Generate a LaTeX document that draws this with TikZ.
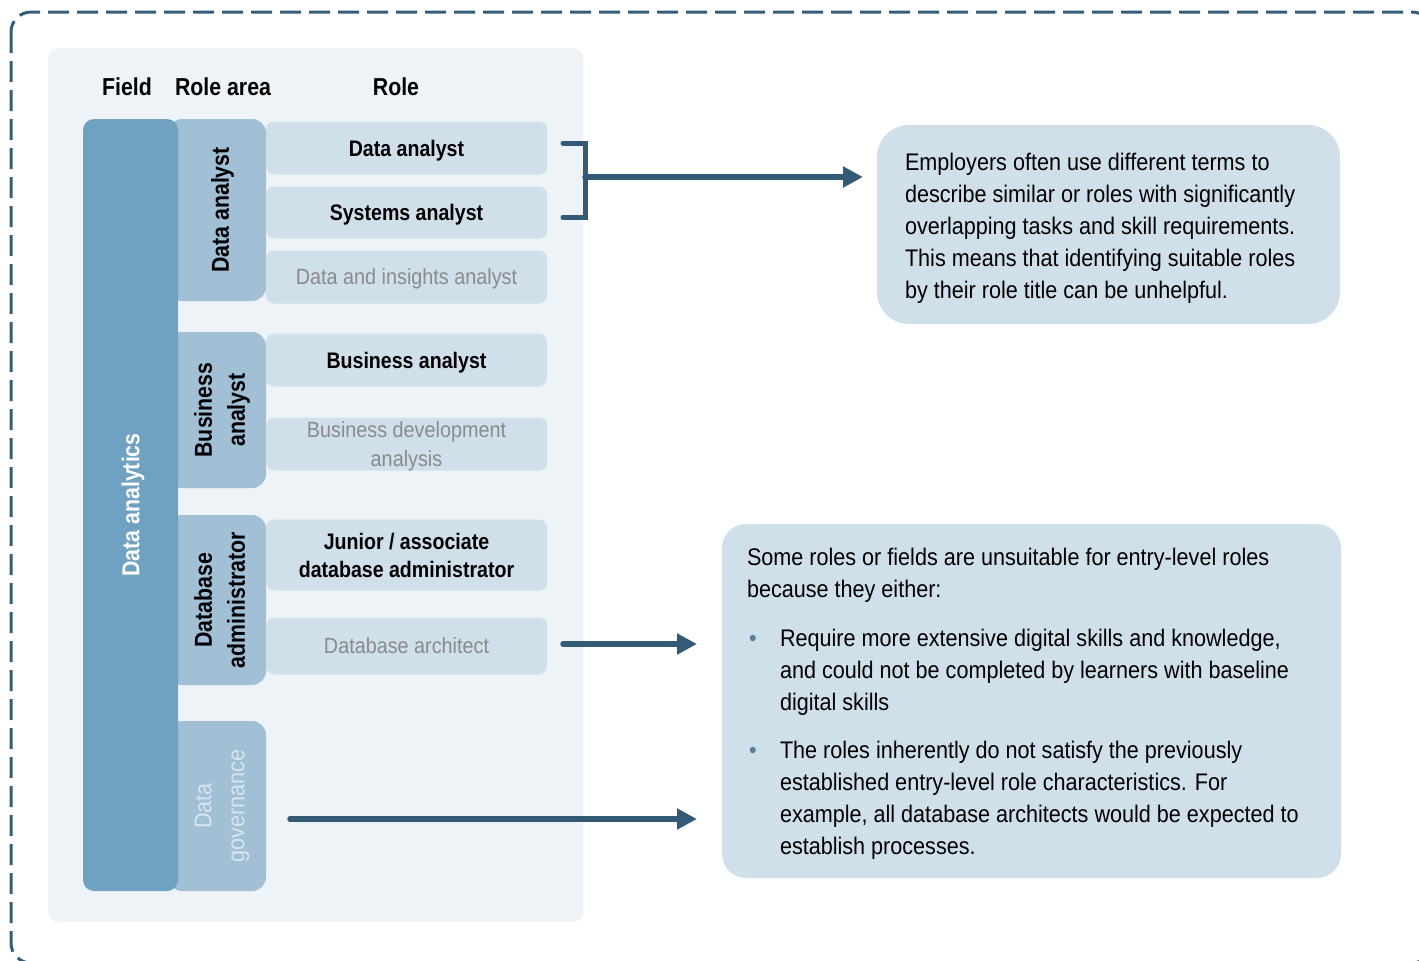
\documentclass[tikz,border=0pt]{standalone}
\usepackage{fontspec}
\setmainfont{Liberation Sans}[FakeStretch=0.9,BoldFeatures={FakeStretch=0.87}]
\usetikzlibrary{arrows.meta}

\definecolor{framec}{HTML}{365D78}
\definecolor{arrowc}{HTML}{335B76}
\definecolor{panelc}{HTML}{EEF3F7}
\definecolor{fieldc}{HTML}{6FA1C1}
\definecolor{areac}{HTML}{A1C0D5}
\definecolor{rolec}{HTML}{D0E0EB}
\definecolor{mutedc}{HTML}{8A8A8A}
\definecolor{fadec}{HTML}{D8E5EF}
\definecolor{bulletc}{HTML}{5B7F99}

\newcommand\fsz[2]{\fontsize{#1}{#2}\selectfont}

\begin{document}
\begin{tikzpicture}[x=1pt,y=-1pt,
  every node/.style={inner sep=0pt,outer sep=0pt},
  panelbox/.style={fill=panelc,rounded corners=10pt},
  fieldbox/.style={fill=fieldc,rounded corners=11pt},
  areabox/.style={fill=areac,rounded corners=14pt,minimum width=98pt},
  rolebox/.style={fill=rolec,rounded corners=8pt,minimum width=281pt,align=center,text depth=0pt,font=\fsz{22.5}{28.5}},
  keyrole/.style={rolebox,font=\fsz{22.5}{28}\bfseries},
  otherrole/.style={rolebox,text=mutedc,font=\fsz{22}{28.5}},
  heading/.style={anchor=base,font=\fsz{24.5}{30}\bfseries},
  areatext/.style={rotate=90,align=center,text depth=0pt,font=\fsz{24.5}{33}\bfseries},
  fadetext/.style={rotate=90,align=center,text depth=0pt,text=fadec,font=\fsz{24}{33}},
  calloutbox/.style={fill=rolec},
  callouttext/.style={anchor=north west,align=left,font=\fsz{24}{32}},
  bracket/.style={draw=arrowc,line width=5pt,line cap=round,line join=miter},
  conn/.style={draw=arrowc,line width=5.5pt,line cap=round,-{Triangle[length=20pt,width=20pt]}},
]
\useasboundingbox (0,0) rectangle (1419,961);

% dashed outer frame, running off the right and bottom edges
\draw[framec,line width=3pt,dash pattern=on 21pt off 8pt,rounded corners=20pt]
  (11,12) rectangle (1432,963);

% light panel holding the table
\node[panelbox,minimum width=535pt,minimum height=874pt] (panel) at (315.5,485) {};

% column headings
\node[heading] (hField) at (127,95) {Field};
\node[heading] (hArea)  at (223,95) {Role area};
\node[heading] (hRole)  at (396,95) {Role};

% role areas (tucked under the field bar)
\node[areabox,minimum height=182pt] (aDA) at (217,210) {};
\node[areabox,minimum height=156pt] (aBA) at (217,410) {};
\node[areabox,minimum height=170pt] (aDB) at (217,600) {};
\node[areabox,minimum height=170pt] (aDG) at (217,806) {};

% field bar
\node[fieldbox,minimum width=95pt,minimum height=772pt] (field) at (130.5,505) {};
\node[rotate=90,text=white,text depth=0pt,font=\fsz{24.5}{30}\bfseries] (fieldlbl) at (field.center) {Data analytics};

% role area labels
\node[areatext] (aDAlbl) at (220,210) {Data analyst};
\node[areatext] (aBAlbl) at (219.5,410) {Business\\analyst};
\node[areatext] (aDBlbl) at (219.5,600) {Database\\administrator};
\node[fadetext] (aDGlbl) at (219.5,806) {Data\\governance};

% roles
\node[keyrole,minimum height=53pt]   (rDA) at (406.5,148) {Data analyst};
\node[keyrole,minimum height=52pt]   (rSA) at (406.5,212.5) {Systems analyst};
\node[otherrole,minimum height=53pt] (rDI) at (406.5,277) {Data and insights analyst};
\node[keyrole,minimum height=53pt]   (rBA) at (406.5,360) {Business analyst};
\node[otherrole,minimum height=53pt] (rBD) at (406.5,444) {Business development\\analysis};
\node[keyrole,minimum height=71pt]   (rJA) at (406.5,555) {Junior / associate\\database administrator};
\node[otherrole,minimum height=57pt] (rAR) at (406.5,646) {Database architect};

% callouts
\node[calloutbox,rounded corners=32pt,minimum width=463pt,minimum height=199pt] (c1) at (1108.5,224.5) {};
\node[callouttext] (c1txt) at (905,147.6) {\strut Employers often use different terms to\\
describe similar or roles with significantly\\
overlapping tasks and skill requirements.\\
This means that identifying suitable roles\\
by their role title can be unhelpful.};

\node[calloutbox,rounded corners=24pt,minimum width=619pt,minimum height=354pt] (c2) at (1031.5,701) {};
\node[callouttext] (c2txt) at (747,543.1) {\strut Some roles or fields are unsuitable for entry-level roles\\
because they either:\\[17pt]
\hspace*{2pt}\makebox[31pt][l]{\textcolor{bulletc}{\textbullet}}Require more extensive digital skills and knowledge,\\
\hspace*{33pt}and could not be completed by learners with baseline\\
\hspace*{33pt}digital skills\\[16pt]
\hspace*{2pt}\makebox[31pt][l]{\textcolor{bulletc}{\textbullet}}The roles inherently do not satisfy the previously\\
\hspace*{33pt}established entry-level role characteristics. For\\
\hspace*{33pt}example, all database architects would be expected to\\
\hspace*{33pt}establish processes.};

% bracket grouping the first two roles
\coordinate (brTop)  at (563,143);
\coordinate (brTopC) at (585,143);
\coordinate (brBotC) at (585,217);
\coordinate (brBot)  at (563,217);
\coordinate (brMid)  at (585,177);
\draw[bracket] (brTop) -- (brTopC) -- (brBotC) -- (brBot);

% connectors to the callouts
\coordinate (arTail) at ([xshift=16pt,yshift=2pt]rAR.east);
\coordinate (dgTail) at (290,819);
\draw[conn,shorten >=14pt] (brMid) -- (brMid -| c1.west);
\draw[conn,shorten >=25pt] (arTail) -- (arTail -| c2.west);
\draw[conn,shorten >=25pt] (dgTail) -- (dgTail -| c2.west);
\end{tikzpicture}
\end{document}
